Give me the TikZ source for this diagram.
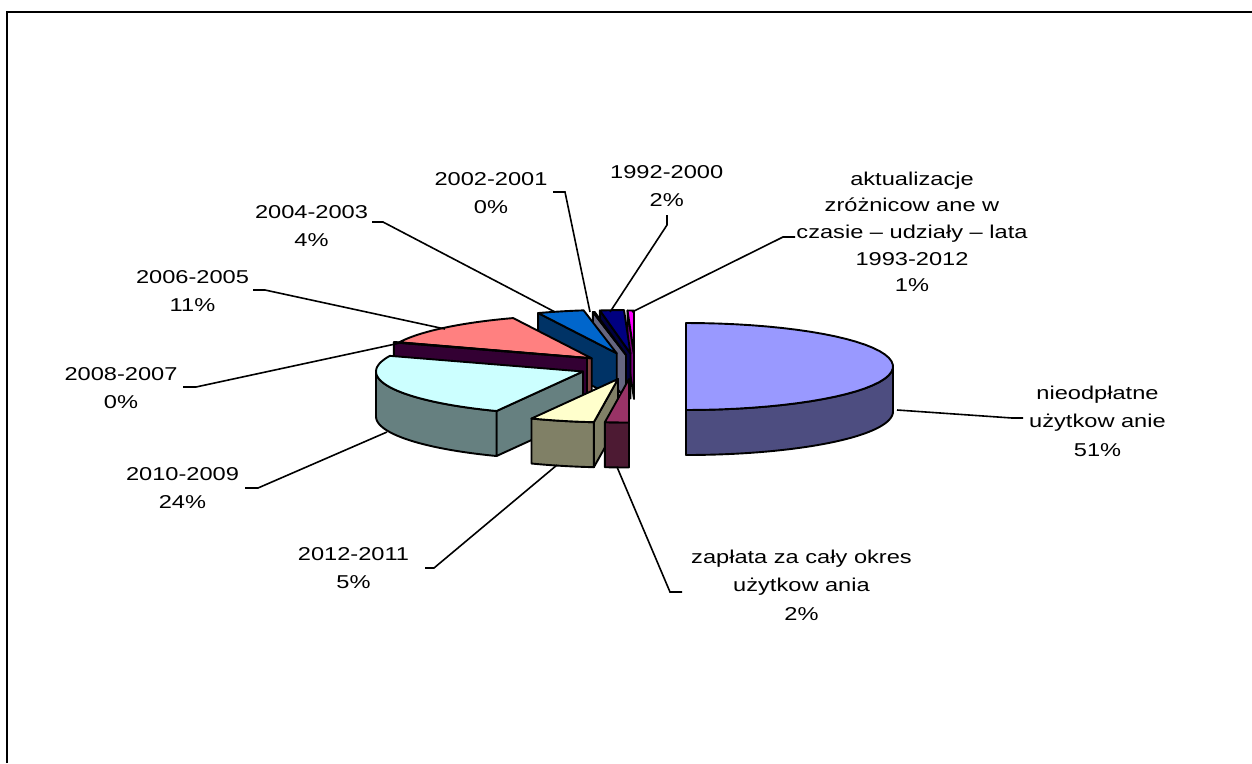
\documentclass[tikz,border=0pt]{standalone}
\usepackage{fontspec}
\setmainfont{Liberation Sans}
\newfontfamily\labfont[FakeStretch=1.27]{Liberation Sans}
\newcommand\mylabel[1]{\begin{tabular}[t]{@{}c@{}}#1\end{tabular}}
\newcommand\slicewall[4]{\filldraw[fill=#4, pieline] (#1,#2) -- ({#1+207*sin(#3)},{#2-43.5*cos(#3)}) -- ({#1+207*sin(#3)},{#2-43.5*cos(#3)+45}) -- (#1,#2+45) -- cycle;}
\newcommand\slicerim[5]{\filldraw[fill=#5, pieline] plot[domain=#3:#4, samples=40] ({#1+207*sin(\x)},{#2-43.5*cos(\x)}) -- plot[domain=#4:#3, samples=40] ({#1+207*sin(\x)},{#2-43.5*cos(\x)+45}) -- cycle;}
\newcommand\slicetop[5]{\filldraw[fill=#5, pieline] (#1,#2) -- plot[domain=#3:#4, samples=40] ({#1+207*sin(\x)},{#2-43.5*cos(\x)}) -- cycle;}
\definecolor{cAtop}{HTML}{9999FF}\definecolor{cAside}{HTML}{4D4D80}
\definecolor{cBtop}{HTML}{993366}\definecolor{cBside}{HTML}{4D1A33}
\definecolor{cCtop}{HTML}{FFFFCC}\definecolor{cCside}{HTML}{808066}
\definecolor{cDtop}{HTML}{CCFFFF}\definecolor{cDside}{HTML}{668080}
\definecolor{cEtop}{HTML}{660066}\definecolor{cEside}{HTML}{330033}
\definecolor{cFtop}{HTML}{FF8080}\definecolor{cFside}{HTML}{804040}
\definecolor{cGtop}{HTML}{0066CC}\definecolor{cGside}{HTML}{003366}
\definecolor{cHtop}{HTML}{CCCCFF}\definecolor{cHside}{HTML}{666680}
\definecolor{cItop}{HTML}{000080}\definecolor{cIside}{HTML}{000040}
\definecolor{cJtop}{HTML}{FF00FF}\definecolor{cJside}{HTML}{800080}
\begin{document}
\begin{tikzpicture}[x=1pt,y=-1pt,
  pieline/.style={draw=black, line width=1.9pt, line join=round},
  lab/.style={inner sep=0pt, anchor=base, font={\labfont\fontsize{18.6}{28.5}\selectfont}},
  leader/.style={draw=black, line width=1.6pt}]
\useasboundingbox (0,0) rectangle (1252,763);
\draw[line width=2pt] (7,763) -- (7,11.5) -- (1252,11.5);
% slices, back to front
\slicewall{634}{354}{358.2}{cJside}\slicetop{634}{354}{358.2}{360}{cJtop}
\slicewall{630.5}{353.5}{351.5}{cIside}\slicetop{630.5}{353.5}{351.5}{358.2}{cItop}
\slicewall{626}{355}{350.8}{cHside}\slicetop{626}{355}{350.8}{351.3}{cHtop}
\slicewall{616.7}{353.3}{337.7}{cGside}\slicetop{616.7}{353.3}{337.7}{350.8}{cGtop}
\slicewall{591.7}{358.3}{291.6}{cFside}\slicetop{591.7}{358.3}{291.6}{337.7}{cFtop}
\slicewall{587}{358}{291.1}{cEside}\slicetop{587}{358}{291.1}{291.6}{cEtop}
\slicewall{583}{371.5}{204.7}{cDside}\slicerim{583}{371.5}{204.7}{270}{cDside}\slicetop{583}{371.5}{204.7}{291.1}{cDtop}
\slicewall{618}{379}{186.7}{cCside}\slicerim{618}{379}{186.7}{204.7}{cCside}\slicetop{618}{379}{186.7}{204.7}{cCtop}
\slicerim{629}{379}{180}{186.7}{cBside}\slicetop{629}{379}{180}{186.7}{cBtop}
\slicerim{686}{366.5}{90}{180}{cAside}\slicetop{686}{366.5}{0}{180}{cAtop}
% labels
\node[lab] (l1) at (1097.5,399.3) {\mylabel{nieodpłatne\\użytkow anie\\51\%}};
\node[lab] (l2) at (801.5,563) {\mylabel{zapłata za cały okres\\użytkow ania\\2\%}};
\node[lab] (l3) at (353.5,560) {\mylabel{2012-2011\\5\%}};
\node[lab] (l4) at (182.5,480) {\mylabel{2010-2009\\24\%}};
\node[lab] (l5) at (121,380) {\mylabel{2008-2007\\0\%}};
\node[lab] (l6) at (192.5,283.3) {\mylabel{2006-2005\\11\%}};
\node[lab] (l7) at (311.5,218) {\mylabel{2004-2003\\4\%}};
\node[lab] (l8) at (491,185) {\mylabel{2002-2001\\0\%}};
\node[lab] (l9) at (666.7,178.3) {\mylabel{1992-2000\\2\%}};
\node[lab, font={\labfont\fontsize{18.6}{26.7}\selectfont}] (l10) at (912,185) {\mylabel{aktualizacje\\zróżnicow ane w\\czasie – udziały – lata\\1993-2012\\1\%}};
% leader anchors
\coordinate (s1) at (897,410); \coordinate (k1) at (1012,418); \coordinate (t1) at (1023,418);
\coordinate (s2) at (617,467); \coordinate (k2) at (670,592); \coordinate (t2) at (682,592);
\coordinate (s3) at (557,465); \coordinate (k3) at (434,568); \coordinate (t3) at (425,568);
\coordinate (s4) at (387,432); \coordinate (k4) at (258,488); \coordinate (t4) at (245,488);
\coordinate (s5) at (400,343); \coordinate (k5) at (196,387); \coordinate (t5) at (183,387);
\coordinate (s6) at (445,329); \coordinate (k6) at (265,290); \coordinate (t6) at (253,290);
\coordinate (s7) at (555,312); \coordinate (k7) at (383,222); \coordinate (t7) at (372,222);
\coordinate (s8) at (590,312); \coordinate (k8) at (565,192); \coordinate (t8) at (553,192);
\coordinate (s9) at (610,312); \coordinate (k9) at (667,225); \coordinate (t9) at (667,215);
\coordinate (s10) at (632,312); \coordinate (k10) at (783,237); \coordinate (t10) at (795,237);
\foreach \i in {1,...,10} {\draw[leader] (s\i) -- (k\i) -- (t\i);}
\end{tikzpicture}
\end{document}
